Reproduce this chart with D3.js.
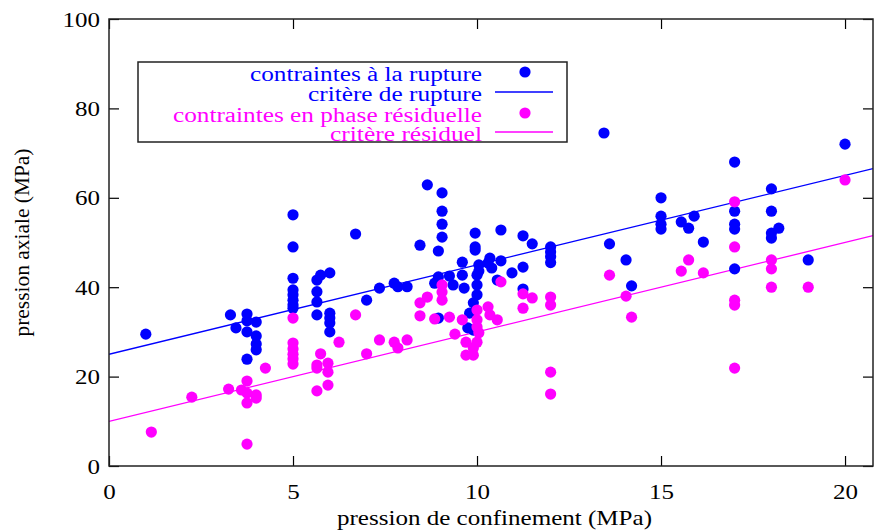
<!DOCTYPE html>
<html><head><meta charset="utf-8">
<script src="https://cdn.jsdelivr.net/npm/d3@7"></script>
<style>body{margin:0;background:#fff}svg{display:block}text{font-family:"Liberation Serif","Times New Roman",serif}</style>
</head><body><div id="c"></div>
<script>
const xTicks=[0,5,10,15,20];
const yTicks=[0,20,40,60,80,100];
const seriesNames=["contraintes à la rupture","critère de rupture","contraintes en phase résiduelle","critère résiduel"];
const colors=["#0000ff","#0000ff","#ff00ff","#ff00ff"];
const ruptureX=[1.0,3.3,3.45,3.75,3.75,3.75,3.75,4.0,4.0,4.0,4.0,5,5,5,5,5,5,5,5,5.65,5.75,6.0,5.65,5.65,5.65,6.0,6.0,6.0,6.0,6.7,7.0,7.35,7.75,7.85,8.1,8.65,9.05,9.05,9.05,9.05,8.45,8.95,9.95,9.95,9.95,10.65,11.25,11.5,12,12,12,12,9.6,10.35,10.05,10.65,11.25,10.95,10.55,11.25,8.95,8.85,9.25,9.35,9.6,9.65,10,10,10,9.9,9.8,9.75,9.9,8.95,10.3,10.4,10.05,13.45,13.6,14.05,14.2,15,15,15,15,15.55,15.75,15.9,16.15,17,17,17,17,17,18,18,18,18,18.2,19,20];
const ruptureY=[29.5,33.8,30.9,34.0,32.5,30.0,23.9,32.2,29.1,27.3,26.0,56.2,49.0,42.0,39.4,38.3,37.1,36.0,35.3,41.6,42.7,43.2,39.0,36.7,33.8,34.2,33.1,32.0,30.0,51.9,37.1,39.8,40.9,40.1,40.1,62.9,61.1,57.0,54.1,51.2,49.4,48.1,52.1,49.0,48.3,52.8,51.5,49.7,49.0,47.9,46.8,45.5,45.6,46.5,45.0,45.9,44.5,43.2,41.6,39.6,42.3,40.9,42.5,40.5,42.7,39.8,42.7,40.5,38.3,36.5,34.2,30.9,30.4,33.1,45.4,44.3,43.6,74.5,49.7,46.1,40.3,60.0,55.9,54.1,53.0,54.6,53.2,55.9,50.1,68.0,57.0,54.1,53.0,44.1,62.0,57.0,52.1,51.0,53.2,46.1,72.0];
const residX=[1.15,2.25,3.25,3.75,3.6,3.75,4.0,4.0,3.75,3.75,4.25,5,5,5,5,5,5,6.7,6.25,5.75,5.65,5.95,5.95,5.65,5.65,5.95,7.0,7.35,7.75,7.85,8.1,8.45,8.65,9.05,9.05,9.05,8.45,8.85,9.25,9.6,9.4,9.7,9.7,9.9,9.9,10,10.05,10,10.3,10.35,10.55,10,10,10.65,11.25,11.5,11.25,12,12,12,12,13.6,14.05,14.2,15.55,15.75,16.15,17,17,17,17,17,18,18,18,19,20];
const residY=[7.6,15.4,17.2,19.0,17.0,16.3,15.9,15.2,14.1,4.9,21.9,33.1,27.5,26.2,25.0,24.0,22.8,33.8,27.7,25.1,22.6,23.0,21.0,21.9,16.8,18.1,25.1,28.2,27.7,26.4,28.2,36.5,37.8,40.5,38.9,37.1,33.6,32.9,33.3,32.7,29.5,27.7,24.8,24.8,26.4,27.7,29.8,34.9,35.6,33.8,32.7,32.7,31.1,41.2,38.5,37.6,35.3,37.8,36.0,21.0,16.1,42.7,38.0,33.3,43.6,46.1,43.2,59.1,49.0,37.1,36.0,21.9,46.1,44.1,40.0,40.0,64.0];
// criteria lines: y = a + b*x
const ruptureLine=[25,2];
const residLine=[10,2];

const W=874,H=531;
const L=109,R=873,T=19,B=466;
const xMax=20.76;
const x=d3.scaleLinear().domain([0,xMax]).range([L,R]);
const y=d3.scaleLinear().domain([0,100]).range([B,T]);
const svg=d3.select("#c").append("svg").attr("width",W).attr("height",H);

svg.append("clipPath").attr("id","clip").append("rect").attr("x",L).attr("y",T).attr("width",R-L).attr("height",B-T);
const g=svg.append("g").attr("clip-path","url(#clip)");
const lineGen=d3.line().x(d=>x(d[0])).y(d=>y(d[1]));
[[ruptureLine,colors[1]],[residLine,colors[3]]].forEach(([c,col])=>{
  g.append("path").datum([[0,c[0]],[xMax,c[0]+c[1]*xMax]]).attr("d",lineGen).attr("fill","none").attr("stroke",col).attr("stroke-width",1.3);
});
const rupt=ruptureX.map((v,i)=>[v,ruptureY[i]]);
const res=residX.map((v,i)=>[v,residY[i]]);
g.selectAll(".r").data(rupt).enter().append("circle").attr("cx",d=>x(d[0])).attr("cy",d=>y(d[1])).attr("r",5.6).attr("fill",colors[0]);
g.selectAll(".m").data(res).enter().append("circle").attr("cx",d=>x(d[0])).attr("cy",d=>y(d[1])).attr("r",5.6).attr("fill",colors[2]);

const fmt=d3.format("d");
const ax=(gen,tr)=>svg.append("g").attr("transform",tr).call(gen);
const styleAx=sel=>{sel.select(".domain").remove();sel.selectAll("line").attr("stroke","#000").attr("stroke-width",1.2);
  sel.selectAll("text").attr("font-size",22).attr("fill","#000").attr("font-family",null)
    .attr("textLength",function(){return this.textContent.length*12.5;}).attr("lengthAdjust","spacingAndGlyphs");};
const bx=ax(d3.axisBottom(x).tickValues(xTicks).tickFormat(fmt).tickSizeInner(-10).tickPadding(17),`translate(0,${B})`);styleAx(bx);
const tx=ax(d3.axisTop(x).tickValues(xTicks).tickSizeInner(-10).tickFormat(""),`translate(0,${T})`);styleAx(tx);
const lx=ax(d3.axisLeft(y).tickValues(yTicks).tickFormat(fmt).tickSizeInner(-10).tickPadding(9),`translate(${L},0)`);styleAx(lx);
const rx=ax(d3.axisRight(y).tickValues(yTicks).tickSizeInner(-10).tickFormat(""),`translate(${R},0)`);styleAx(rx);
svg.append("rect").attr("x",L).attr("y",T).attr("width",R-L).attr("height",B-T).attr("fill","none").attr("stroke","#222").attr("stroke-width",1.5);

svg.append("text").attr("x",494.5).attr("y",525).attr("text-anchor","middle").attr("font-size",22)
  .attr("textLength",315).attr("lengthAdjust","spacingAndGlyphs").text("pression de confinement (MPa)");
svg.append("text").attr("transform",`translate(29,${(T+B)/2}) rotate(-90)`).attr("text-anchor","middle").attr("font-size",22)
  .attr("textLength",188).attr("lengthAdjust","spacingAndGlyphs").text("pression axiale (MPa)");

const lg=svg.append("g");
lg.append("rect").attr("x",138).attr("y",62).attr("width",429).attr("height",80).attr("fill","#fff").attr("stroke","#222").attr("stroke-width",1.5);
const rowY=[72,92,113,132];
const legW=[232,174,309,152];
seriesNames.forEach((n,i)=>{
  lg.append("text").attr("x",482).attr("y",rowY[i]+9).attr("text-anchor","end").attr("font-size",20.5).attr("fill",colors[i])
    .attr("textLength",legW[i]).attr("lengthAdjust","spacingAndGlyphs").text(n);
  if(i%2===0) lg.append("circle").attr("cx",525).attr("cy",rowY[i]).attr("r",5.6).attr("fill",colors[i]);
  else lg.append("line").attr("x1",495).attr("x2",553).attr("y1",rowY[i]).attr("y2",rowY[i]).attr("stroke",colors[i]).attr("stroke-width",1.3);
});
</script></body></html>
